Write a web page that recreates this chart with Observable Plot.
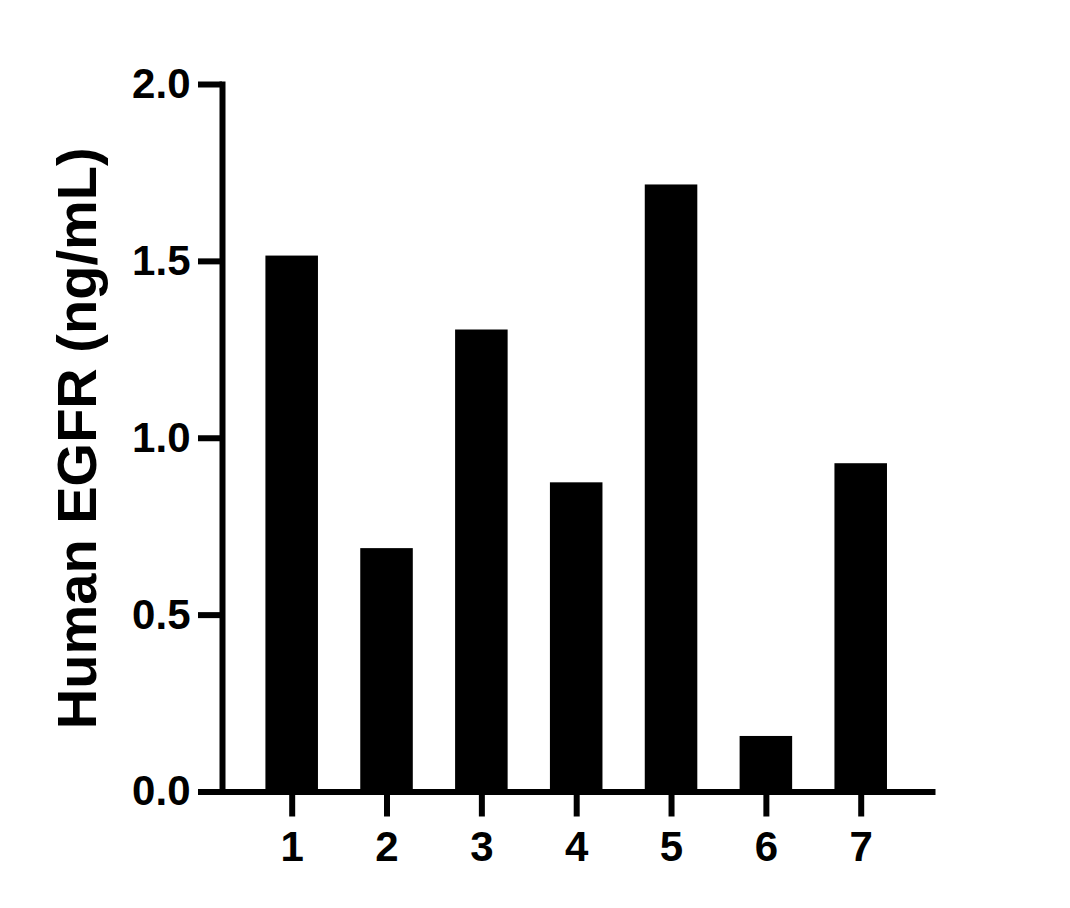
<!DOCTYPE html>
<html>
<head>
<meta charset="utf-8">
<script src="https://cdn.jsdelivr.net/npm/d3@7"></script>
<script src="https://cdn.jsdelivr.net/npm/@observablehq/plot@0.6"></script>
<style>
  html, body { margin: 0; padding: 0; background: #fff; }
  #chart svg { display: block; }
</style>
</head>
<body>
<div id="chart"></div>
<script>
const categories = ["1", "2", "3", "4", "5", "6", "7"];
const values = [1.515, 0.688, 1.306, 0.874, 1.716, 0.157, 0.928];
const yTicks = [0, 0.5, 1.0, 1.5, 2.0];
const yTitle = "Human EGFR (ng/mL)";

const data = categories.map((c, i) => ({ cat: c, value: values[i] }));
const font = "'Liberation Sans', Arial, Helvetica, sans-serif";

const chart = Plot.plot({
  width: 1070,
  height: 908,
  marginLeft: 222,
  marginRight: 138,
  marginTop: 84,
  marginBottom: 116.5,
  style: { fontFamily: font, fontWeight: "bold", color: "#000", background: "#fff" },
  x: { domain: categories, range: [218, 934.4], paddingInner: 0.446, paddingOuter: 0.5, round: false },
  y: { domain: [0, 2] },
  marks: [
    Plot.barY(data, { x: "cat", y: "value", fill: "#000" }),
    Plot.frame({ anchor: "left", stroke: "#000", strokeWidth: 6, strokeLinecap: "square" }),
    Plot.frame({ anchor: "bottom", stroke: "#000", strokeWidth: 6, strokeLinecap: "square" }),
    Plot.axisY({
      ticks: yTicks,
      tickFormat: d3.format(".1f"),
      tickSize: 24,
      tickPadding: 8,
      strokeWidth: 6,
      fontSize: 42,
      fontWeight: "bold",
      label: null
    }),
    Plot.axisX({
      tickSize: 25,
      tickPadding: 14.5,
      strokeWidth: 6,
      fontSize: 42,
      fontWeight: "bold",
      label: null
    }),
    Plot.text([yTitle], {
      text: d => d,
      frameAnchor: "left",
      rotate: -90,
      textAnchor: "middle",
      lineAnchor: "bottom",
      dx: -127,
      fontSize: 56,
      fontWeight: "bold",
      fill: "#000"
    })
  ]
});
document.getElementById("chart").appendChild(chart);
</script>
</body>
</html>
